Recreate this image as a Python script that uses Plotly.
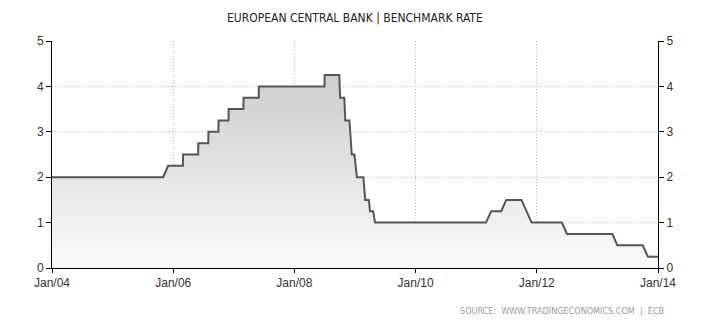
import plotly.graph_objects as go

# ECB benchmark rate observations (date, rate %)
dates = [
    "2004-01-01", "2005-11-01", "2005-12-01",
    "2006-02-28", "2006-03-01", "2006-05-31", "2006-06-01",
    "2006-07-31", "2006-08-01", "2006-09-30", "2006-10-01",
    "2006-11-30", "2006-12-01", "2007-02-28", "2007-03-01",
    "2007-05-31", "2007-06-01", "2008-06-30", "2008-07-02",
    "2008-09-28", "2008-10-03", "2008-10-28", "2008-11-03",
    "2008-11-28", "2008-12-12", "2008-12-28", "2009-01-12",
    "2009-02-20", "2009-03-03", "2009-03-25", "2009-04-01",
    "2009-04-20", "2009-05-01", "2011-03-01", "2011-04-01",
    "2011-06-01", "2011-07-01", "2011-10-01", "2011-12-01",
    "2012-06-01", "2012-07-01", "2013-04-01", "2013-05-01",
    "2013-10-01", "2013-11-01", "2014-01-01",
]
rates = [
    2.00, 2.00, 2.25,
    2.25, 2.50, 2.50, 2.75,
    2.75, 3.00, 3.00, 3.25,
    3.25, 3.50, 3.50, 3.75,
    3.75, 4.00, 4.00, 4.25,
    4.25, 3.75, 3.75, 3.25,
    3.25, 2.50, 2.50, 2.00,
    2.00, 1.50, 1.50, 1.25,
    1.25, 1.00, 1.00, 1.25,
    1.25, 1.50, 1.50, 1.00,
    1.00, 0.75, 0.75, 0.50,
    0.50, 0.25, 0.25,
]

x_tick_vals = ["2004-01-01", "2006-01-01", "2008-01-01", "2010-01-01", "2012-01-01", "2014-01-01"]
x_tick_text = ["Jan/04", "Jan/06", "Jan/08", "Jan/10", "Jan/12", "Jan/14"]
y_ticks = [0, 1, 2, 3, 4, 5]

title_text = "EUROPEAN CENTRAL BANK | BENCHMARK RATE"
source_text = "SOURCE:  WWW.TRADINGECONOMICS.COM  |  ECB"

fig = go.Figure()
fig.add_trace(go.Scatter(
    x=dates, y=rates, mode="lines",
    line=dict(color="#555555", width=2),
    fill="tozeroy",
    fillgradient=dict(type="vertical", start=0, stop=4.25,
                      colorscale=[[0, "#fbfbfb"], [1, "#cdcdcd"]]),
    hoverinfo="skip", showlegend=False,
))
# invisible trace to carry the right-hand axis
fig.add_trace(go.Scatter(
    x=[dates[0]], y=[rates[0]], yaxis="y2", mode="markers",
    marker=dict(opacity=0), hoverinfo="skip", showlegend=False,
))

tick_font = dict(family="Liberation Sans, Arial, sans-serif", size=12, color="#333333")
grid_style = dict(showgrid=True, gridcolor="#bdbdbd", griddash="1px,2px", gridwidth=1)

fig.update_layout(
    width=710, height=325,
    margin=dict(l=52, r=52, t=41, b=57),
    paper_bgcolor="white", plot_bgcolor="white",
    xaxis=dict(
        type="date",
        range=["2004-01-01", "2014-01-01"],
        tickvals=x_tick_vals, ticktext=x_tick_text,
        tickfont=tick_font,
        ticks="outside", ticklen=4, tickcolor="#000000",
        showline=True, linecolor="#000000", linewidth=1,
        zeroline=False, **grid_style,
    ),
    yaxis=dict(
        range=[0, 5], tickvals=y_ticks,
        tickfont=tick_font,
        ticks="outside", ticklen=5, tickcolor="#000000",
        showline=True, linecolor="#000000", linewidth=1,
        zeroline=False, **grid_style,
    ),
    yaxis2=dict(
        range=[0, 5], tickvals=y_ticks, overlaying="y", side="right",
        tickfont=tick_font,
        ticks="outside", ticklen=5, tickcolor="#000000",
        showline=True, linecolor="#000000", linewidth=1,
        showgrid=False, zeroline=False,
    ),
    annotations=[
        dict(text=title_text, xref="paper", yref="paper",
             x=0.5, y=1, yshift=23, xanchor="center", yanchor="middle",
             showarrow=False,
             font=dict(family="DejaVu Sans Condensed, Liberation Sans Narrow, sans-serif",
                       size=12, color="#222222")),
        dict(text=source_text, xref="paper", yref="paper",
             x=1, y=0, xshift=8, yshift=-43, xanchor="right", yanchor="middle",
             showarrow=False,
             font=dict(family="DejaVu Sans Condensed, Liberation Sans Narrow, sans-serif",
                       size=9, color="#999999")),
    ],
)

fig.write_html("out.html")
